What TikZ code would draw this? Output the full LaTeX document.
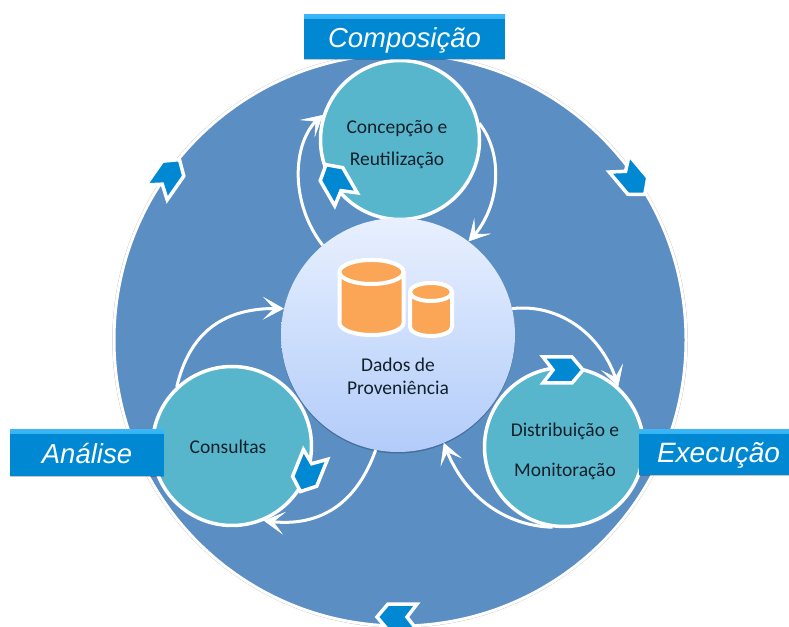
\documentclass[tikz,border=0pt]{standalone}
\usepackage{fontspec}
\setmainfont{Carlito}
\newfontfamily\bannerfont{Liberation Sans}
\usetikzlibrary{arrows.meta,bending,shadows}
\definecolor{ringblue}{HTML}{5B8EC3}
\definecolor{tealfill}{HTML}{58B6CC}
\definecolor{bannerblue}{HTML}{0088D2}
\definecolor{bannerlight}{HTML}{3AB6F6}
\definecolor{cylorange}{HTML}{FBA556}
\definecolor{inktext}{HTML}{12202A}
\definecolor{midtop}{HTML}{E8F0FE}
\definecolor{midbottom}{HTML}{B2CCFA}
\tikzset{
  softshadow/.style={drop shadow={shadow xshift=0pt,shadow yshift=-1.5pt,opacity=.22,fill=black}},
  phase/.style={circle,draw=white,line width=3.5pt,fill=tealfill,minimum size=159pt,inner sep=0pt,outer sep=1.5pt,softshadow},
  flow/.style={draw=white,line width=3pt,-{Stealth[length=21pt,width=23pt,inset=11pt,line width=0.5pt,fill=white]}},
  tag/.style={text=white,font=\bannerfont\itshape\fontsize{27.5}{32}\selectfont,inner sep=0pt,fill=bannerblue,softshadow,text height=21pt,text depth=0pt,
    path picture={\fill[top color=bannerlight,bottom color=bannerblue] (path picture bounding box.north west) rectangle ([yshift=-4pt]path picture bounding box.north east);}},
  lbl/.style={text=inktext,font=\fontsize{19.5}{20}\selectfont,align=center,inner sep=0pt},
  cyl/.style={fill=cylorange,draw=white,line width=4pt,line join=round,softshadow},
  cyltop/.style={fill=cylorange,draw=white,line width=4pt},
  chevron/.pic={\draw[white,line width=3.5pt,fill=bannerblue,miter limit=3]
     (-20,13)--(9,13)--(20,0)--(9,-13)--(-20,-13)--(-10,0)--cycle;}
}
\begin{document}
\begin{tikzpicture}[x=1pt,y=1pt]
\useasboundingbox (0,0) rectangle (789,626);
\fill[white] (0,0) rectangle (789,626);
% outer ring
\node[circle,draw=white,line width=3pt,fill=ringblue,minimum size=572pt,inner sep=0pt,
  drop shadow={shadow xshift=0pt,shadow yshift=0pt,shadow scale=1.006,opacity=.3,fill=black}] (ring) at (400,286) {};
% phase circles
\node[phase] (comp) at (400,486) {};
\node[phase] (exec) at (564,179) {};
\node[phase] (anal) at (232,180) {};
% centre
\node[circle,minimum size=234pt,inner sep=0pt,top color=midtop,bottom color=midbottom,softshadow] (mid) at (398,291) {};
% connectors
\draw[flow] (mid.130) .. controls (288,425) and (292,490) .. (comp.162);
\draw[flow] (comp.12) .. controls (505,470) and (500,415) .. (mid.53);
\draw[flow] (mid.13) .. controls (560,323) and (605,290) .. (exec.48);
\draw[flow] (exec.262) .. controls (505,100) and (462,130) .. (mid.293);
\draw[flow] (anal.133) .. controls (190,295) and (225,320) .. (mid.167);
\draw[flow] (mid.259) .. controls (355,118) and (315,97) .. (anal.293);
% cylinders
\draw[cyl] (339.5,354) -- (339.5,303) arc[start angle=180,end angle=360,x radius=32,y radius=12] -- (403.5,354) arc[start angle=0,end angle=180,x radius=32,y radius=12] -- cycle;
\draw[cyltop] (371.5,354) ellipse[x radius=32,y radius=12];
\draw[cyl] (410,334) -- (410,299) arc[start angle=180,end angle=360,x radius=21,y radius=9] -- (452,334) arc[start angle=0,end angle=180,x radius=21,y radius=9] -- cycle;
\draw[cyltop] (431,334) ellipse[x radius=21,y radius=9];
% text
\node[lbl] (lmid) at (398,250) {Dados de\\[3pt]Proveniência};
\node[lbl] (lcomp) at (397,481) {Concepção e\\[12pt]Reutilização};
\node[lbl] (lexec) at (565,175) {Distribuição e\\[20pt]Monitoração};
\node[lbl] (lanal) at (228,179) {Consultas};
% banners
\node[tag,minimum width=201pt,minimum height=44pt] (bcomp) at (404.5,589) {Composição};
\node[tag,minimum width=150pt,minimum height=45pt] (bexec) at (714,173.5) {\hspace*{9pt}\fontsize{28}{32}\selectfont Execução};
\node[tag,minimum width=154pt,minimum height=46pt] (banal) at (87,173) {Análise};
% chevrons
\pic[rotate=55] at (168,450) {chevron};
\pic[rotate=-50] at (632,447) {chevron};
\pic[rotate=180] at (397,9) {chevron};
\pic at (563,256) {chevron};
\pic[rotate=-112] at (308,153) {chevron};
\pic[rotate=120] at (336,444) {chevron};
\end{tikzpicture}
\end{document}
